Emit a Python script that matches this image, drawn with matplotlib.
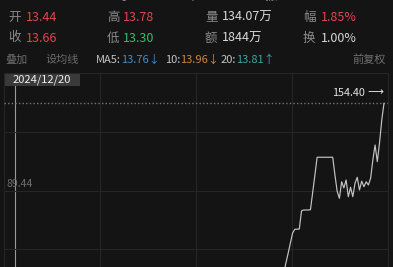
import matplotlib
matplotlib.use("Agg")
import matplotlib.pyplot as plt
import numpy as np

plt.rcParams['font.family'] = ['Noto Sans CJK SC', 'DejaVu Sans']

# ---- data ----
days = list(range(49))
prices = [6.0, 13.5, 20.9, 28.4, 35.7, 43.0, 50.5, 58.0, 60.8, 60.8,
          61.0, 74.5, 75.1, 75.1, 75.1, 75.3, 88.0, 101.0, 114.3, 114.3,
          114.3, 114.3, 114.3, 114.3, 114.3, 114.3, 101.0, 89.0, 83.8, 96.1,
          91.5, 97.4, 85.0, 92.0, 85.0, 95.0, 99.4, 90.0, 96.5, 92.4,
          96.1, 93.7, 98.7, 112.3, 123.4, 111.0, 125.0, 142.0, 154.4]
max_price = 154.40
axis_label = 89.44
date_label = "2024/12/20"

row0 = [("0.34", "#d0434b"), ("1.81%", "#d0434b"), ("均 13.52", "#8a8a8a"),
        ("昨 13.41", "#8a8a8a"), ("振 3.58%", "#8a8a8a")]
row1 = [("开", "13.44", "#e0454f"), ("高", "13.78", "#e0454f"),
        ("量", "134.07万", "#d8d8d8"), ("幅", "1.85%", "#e0454f")]
row2 = [("收", "13.66", "#e0454f"), ("低", "13.30", "#2fbf6e"),
        ("额", "1844万", "#d8d8d8"), ("换", "1.00%", "#d8d8d8")]
ma_labels = ["MA5:", "10:", "20:"]
ma_values = ["13.76↓", "13.96↓", "13.81↑"]
ma_colors = ["#3f8fcf", "#d0843e", "#3aa6a6"]

BG = "#141414"
W, H = 393, 267
fig = plt.figure(figsize=(W / 100, H / 100), dpi=100, facecolor=BG)

# overlay in pixel coordinates
ov = fig.add_axes([0, 0, 1, 1], zorder=0)
ov.set_xlim(0, W)
ov.set_ylim(H, 0)
ov.axis('off')
ov.set_facecolor(BG)

# chart axes
top_px = 72.5
ax = fig.add_axes([4 / W, 0, 384 / W, (H - top_px) / H], zorder=1)
ax.set_facecolor('none')
px_per_day = 2.229
x0_px = 277
ax.set_xlim((4 - x0_px) / px_per_day, (388 - x0_px) / px_per_day)
slope = 0.7432  # price per pixel
y_ref_px = 103.3
ax.set_ylim(max_price - (H - y_ref_px) * slope, max_price + (y_ref_px - top_px) * slope)
for s in ax.spines.values():
    s.set_visible(False)
ax.set_xticks([])
ax.set_yticks([])

grid_c = "#262626"
for fx in [0, 0.25, 0.5, 0.75, 1.0]:
    ax.plot([fx, fx], [0, 1], transform=ax.transAxes, color=grid_c, lw=0.8,
            clip_on=False)
for gp in [axis_label - 43.55, axis_label, axis_label + 43.55]:
    ax.axhline(gp, color=grid_c, lw=0.8)
ax.plot([0, 1], [1, 1], transform=ax.transAxes, color=grid_c, lw=0.8, clip_on=False)

# max price dotted line
ax.axhline(max_price, color="#8a7258", lw=1.0, ls=(0, (1, 1.6)))

# price line
ax.plot(days, prices, color="#c4c4c4", lw=0.85)

# labels on chart
ax.text(0.006, axis_label + 1.5, f"{axis_label:.2f}", color="#6e6e6e", fontsize=7.5,
        transform=ax.get_yaxis_transform(), va='bottom', ha='left')
ov.text(365, 92.5, f"{max_price:.2f}", color="#e0e0e0", fontsize=7.8, ha='right', va='center')
ov.text(367, 92.5, "⟶", color="#e0e0e0", fontsize=8, ha='left', va='center',
        family=['DejaVu Sans'])

# crosshair + date box
ov.plot([15, 15], [86, H], color="#9a9a9a", lw=0.8)
ov.add_patch(plt.Rectangle((5, 72.5), 75, 13.5, color="#3a3a3a", lw=0))
ov.text(12.5, 79.5, date_label, color="#f0f0f0", fontsize=8, ha='left', va='center')

# header
fs = 9
xs0 = [10, 62, 115, 185, 265]
for (t, c), x in zip(row0, xs0):
    ov.text(x, -3.5, t, color=c, fontsize=fs, ha='left', va='center')
label_x = [8, 107, 205, 303]
val_x = [26, 123, 222, 321]
for ry, row in [(17.5, row1), (38, row2)]:
    for (lab, val, c), lx, vx in zip(row, label_x, val_x):
        ov.text(lx, ry, lab, color="#8a8a8a", fontsize=fs, ha='left', va='center')
        ov.text(vx, ry, val, color=c, fontsize=fs, ha='left', va='center')

ry3 = 60
ov.text(5, ry3, "叠加", color="#6c6c6c", fontsize=8, ha='left', va='center')
ov.text(45, ry3, "设均线", color="#6c6c6c", fontsize=8, ha='left', va='center')
lab_x = [96, 165, 221]
for lab, val, c, lx in zip(ma_labels, ma_values, ma_colors, lab_x):
    t = ov.text(lx, ry3, lab, color="#c4c4c4", fontsize=8, ha='left', va='center')
    ov.annotate(val, xy=(1, 0.5), xycoords=t, color=c, fontsize=8,
                ha='left', va='center')
ov.text(386, ry3, "前复权", color="#707070", fontsize=8, ha='right', va='center')

fig.savefig("out.png", dpi=100, facecolor=BG)
